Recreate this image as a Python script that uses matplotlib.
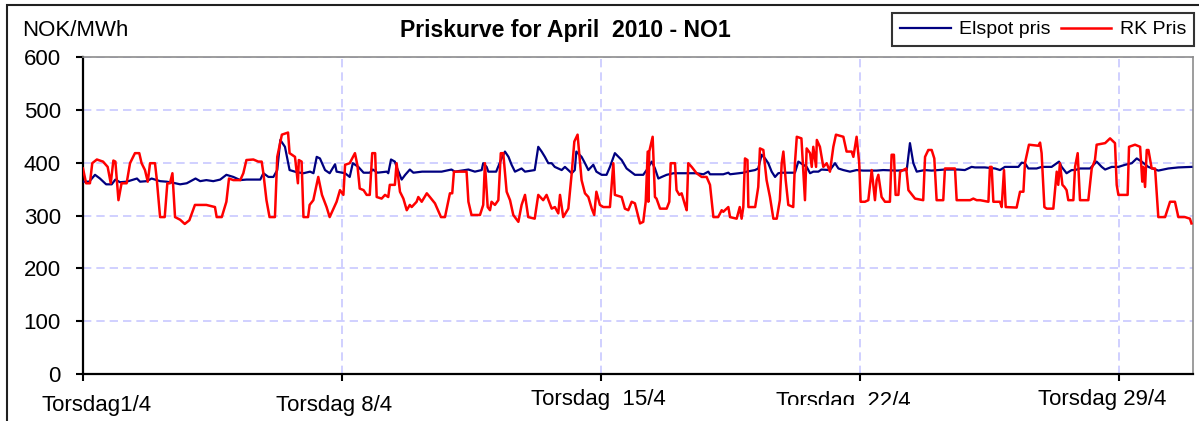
import matplotlib
matplotlib.use("Agg")
import matplotlib.pyplot as plt
from matplotlib.patches import Rectangle
from matplotlib.transforms import Bbox, blended_transform_factory

plt.rcParams['font.family'] = ['Liberation Sans', 'DejaVu Sans']

# ---- data (hour of month, NOK/MWh) ----
elspot_hours = [0, 4, 7.8, 11, 15, 18.6, 21, 24, 28.3, 35, 37, 41.3, 44.5, 50, 54.3, 60, 63, 67.3, 73, 76, 80, 84.5,
                89, 93, 97.5, 102, 106, 115, 117, 120.3, 123.5, 126, 128, 131, 134, 138.6, 143, 147.3, 149.5, 151.6,
                153.7, 157, 160, 163.5, 164.5, 170, 173, 175, 178.6, 182, 186, 188, 191, 197, 198, 199.8, 202.3,
                203.4, 206.7, 209, 212, 214.3, 220, 224, 232.6, 239, 241.2, 250, 254.2, 258.6, 259.6, 261.8, 262.9,
                268, 271.5, 273.7, 276, 278, 280.2, 284.5, 286.7, 293, 295.3, 297.5, 299.6, 301.8, 304, 306, 310.5,
                312.6, 317, 319, 320, 323.4, 325.6, 327.8, 331, 333, 336.4, 339.6, 341.8, 345, 349.4, 352.6, 358,
                363.4, 365.6, 368.9, 371, 373.2, 375.4, 378.6, 383, 398, 402.4, 405.6, 406.7, 415.3, 418.6, 419.7,
                428.3, 430.5, 435.9, 438, 440.2, 442.4, 444.5, 446.7, 448.9, 451, 453.2, 461.8, 464, 467.2, 469.4,
                471.6, 473.7, 477, 479, 484.5, 487.8, 490, 493.2, 497.5, 501.8, 506, 514.8, 519, 527.8, 534.3, 536.4,
                538.6, 540.8, 546, 550.5, 559, 567.6, 572, 576.4, 578.6, 585, 591.6, 594.8, 598, 606.7, 608.9, 611,
                613.2, 618.6, 621.8, 628.3, 631.6, 633.1, 634.8, 638, 641.3, 643.5, 646.7, 653.2, 657.5, 660.8, 663,
                667.3, 671.6, 676, 680.3, 683.5, 686.7, 691, 697.5, 704, 710.5, 719]
elspot_values = [364, 364, 377, 370, 359, 359, 368, 363, 364, 370, 364, 365, 370, 365, 364, 361, 359, 361, 370, 365,
                 367, 365, 368, 377, 373, 367, 368, 368, 380, 373, 373, 386, 443, 430, 386, 382, 380, 383, 380, 411,
                 408, 386, 380, 397, 383, 380, 373, 399, 392, 381, 381, 387, 381, 383, 380, 406, 402, 392, 368, 377,
                 387, 381, 383, 383, 383, 387, 383, 387, 383, 386, 399, 392, 383, 383, 408, 421, 411, 396, 383, 389,
                 383, 386, 430, 421, 411, 399, 399, 392, 386, 392, 380, 386, 421, 411, 399, 386, 396, 383, 377, 377,
                 392, 418, 405, 389, 377, 377, 386, 402, 389, 370, 373, 377, 380, 380, 378, 383, 378, 378, 381, 378,
                 381, 383, 386, 389, 415, 408, 399, 383, 373, 380, 381, 381, 402, 396, 392, 380, 383, 383, 387, 386,
                 399, 389, 386, 383, 386, 385, 385, 386, 385, 386, 437, 399, 383, 386, 385, 387, 387, 386, 392, 391,
                 391, 389, 386, 392, 392, 400, 399, 389, 389, 392, 392, 399, 402, 392, 380, 386, 386, 389, 389, 402,
                 392, 387, 392, 392, 396, 399, 408, 402, 392, 385, 389, 391, 392]

rk_hours = [0, 2, 4.5, 6, 9, 13, 16, 18, 19.7, 21, 23, 25, 28.3, 30.5, 33.7, 36.5, 38, 40.2, 42, 43.5, 46.7, 47.8, 50,
            53, 54.7, 56.4, 58, 59.7, 63, 66, 69, 72.6, 80, 85.6, 86.7, 90, 93, 94.7, 97.5, 102, 104, 106, 110.5,
            113.7, 115.9, 117, 119, 121, 124.5, 126, 129, 133, 134, 137.5, 139.4, 140, 141.8, 143, 146, 147, 149.4,
            152.6, 155, 158, 160, 164.5, 166.7, 168.9, 170, 173, 176.4, 178, 179.5, 182, 184, 186, 187.6, 189.5,
            190.5, 193.7, 195.9, 198, 199, 202.3, 203.4, 205.6, 207.8, 210, 212, 213.2, 216.4, 217.5, 219.7, 223, 225,
            228.3, 232.2, 234.8, 238, 239.5, 240.6, 248.8, 250, 252, 257.5, 259.6, 260.7, 262.5, 264, 265, 267.2,
            269.4, 271, 272.6, 274.8, 277, 279.1, 282.4, 284.5, 286.7, 288.8, 293, 295.3, 298.5, 300.7, 304, 306.1,
            308.3, 309.4, 311.5, 314.8, 317, 318.7, 320.8, 322.3, 323.4, 325.6, 327.8, 330, 331.6, 333, 335.3, 337.5,
            341.8, 344, 345, 349.4, 351.5, 353.7, 355.9, 358, 361.3, 363.4, 365, 366.3, 366.7, 367.3, 369.5, 371,
            372, 374.3, 378.6, 380.3, 381.2, 384, 385, 386.8, 388.3, 390.5, 391.6, 392.6, 394.8, 398, 401.3, 404.5,
            406.7, 408.9, 412, 414.3, 415.3, 418.6, 419.7, 424, 426, 427.2, 428.3, 429.4, 431, 431.6, 436, 438,
            439.1, 441.3, 443.4, 445.6, 447.8, 450, 452, 453.2, 454.3, 455.8, 457.5, 460.7, 461.8, 463, 466, 468.3,
            469.4, 471.6, 472.7, 473.7, 475.5, 476, 478, 480.2, 482.4, 484.5, 486.7, 488.4, 493.2, 495.3, 498.6,
            499.7, 501.8, 503.5, 504.4, 507.2, 509.4, 511.6, 513.7, 514.8, 515.9, 518, 520.2, 523.4, 524.5, 526,
            527.1, 528.9, 530, 534, 535.4, 539.7, 545, 546.2, 548.3, 550.5, 552.2, 553.7, 558, 559.1, 565.6, 566.7,
            575.4, 577.5, 579.7, 581.9, 587.3, 588.3, 589.4, 590.5, 594.8, 595.9, 597.4, 598.5, 605.6, 607.8, 610,
            611, 613.6, 619.7, 620.8, 621.8, 623.6, 625.1, 629.4, 631.6, 632.6, 633.7, 635.3, 636.6, 638, 639.1,
            642.4, 643.5, 645.2, 646.7, 652.1, 654.3, 656.4, 657.5, 663, 666.2, 669.4, 670.5, 671.6, 677.6, 678.5,
            682.4, 685.7, 687.1, 687.7, 688.9, 690, 691.1, 693.2, 695.4, 697.5, 701.9, 705.1, 708.3, 710.5, 714.8,
            718, 719]
rk_values = [389, 361, 361, 399, 406, 402, 392, 361, 404, 402, 329, 361, 361, 399, 418, 418, 399, 386, 364, 399, 399,
             370, 297, 297, 361, 361, 380, 297, 292, 284, 291, 320, 320, 316, 297, 297, 326, 370, 367, 367, 380, 405,
             406, 402, 402, 380, 329, 297, 297, 411, 453, 457, 418, 411, 361, 405, 402, 297, 297, 320, 329, 373, 339,
             316, 297, 326, 348, 339, 396, 399, 418, 395, 351, 348, 339, 339, 418, 418, 335, 332, 339, 335, 358, 358,
             399, 345, 332, 310, 320, 316, 326, 335, 326, 342, 335, 323, 297, 297, 342, 342, 383, 383, 326, 301, 301,
             320, 399, 316, 310, 326, 320, 329, 418, 418, 345, 329, 301, 288, 320, 339, 297, 294, 339, 329, 339, 313,
             316, 304, 339, 297, 313, 380, 440, 453, 402, 367, 342, 335, 313, 301, 345, 320, 316, 316, 399, 339, 335,
             313, 310, 326, 323, 285, 288, 326, 421, 326, 421, 449, 335, 332, 313, 313, 326, 399, 399, 348, 339, 342,
             320, 310, 399, 392, 380, 373, 373, 358, 297, 297, 310, 307, 316, 297, 294, 316, 294, 316, 408, 405, 316,
             316, 354, 427, 424, 367, 335, 294, 294, 329, 399, 421, 367, 320, 316, 399, 449, 446, 329, 427, 418, 392,
             430, 392, 443, 430, 392, 399, 383, 430, 453, 449, 421, 421, 411, 449, 399, 326, 326, 329, 386, 329, 367,
             377, 335, 326, 326, 415, 415, 339, 339, 383, 389, 348, 332, 329, 411, 424, 424, 408, 329, 329, 389, 389,
             329, 329, 332, 329, 329, 326, 392, 392, 326, 326, 316, 386, 316, 315, 345, 345, 399, 434, 432, 438, 418,
             316, 313, 313, 383, 358, 399, 358, 354, 348, 329, 329, 392, 418, 329, 329, 389, 405, 434, 437, 446, 437,
             358, 339, 339, 430, 434, 430, 364, 392, 354, 424, 424, 389, 389, 297, 297, 326, 326, 297, 297, 294, 285]

y_ticks = [0, 100, 200, 300, 400, 500, 600]
tick_hours = [0, 168, 336, 504, 672]
tick_labels = ["Torsdag1/4", "Torsdag 8/4", "Torsdag  15/4", "Torsdag  22/4", "Torsdag 29/4"]

# ---- figure ----
W, H = 1199, 421
fig = plt.figure(figsize=(W / 100, H / 100), dpi=100)
ax = fig.add_axes([83 / W, 1 - 374 / H, 1110 / W, 317 / H])

ax.plot(elspot_hours, elspot_values, color='#000080', lw=1.6, label='Elspot pris', zorder=3)
ax.plot(rk_hours, rk_values, color='#ff0000', lw=1.8, label='RK Pris', zorder=4)

ax.set_xlim(0, 720)
ax.set_ylim(0, 600)
ax.set_yticks(y_ticks)
ax.set_xticks(tick_hours)
ax.tick_params(axis='y', direction='out', length=5, width=1.5, labelsize=16, pad=11, colors='black')
ax.tick_params(axis='x', direction='out', length=5, width=1.5, labelbottom=False)
ax.grid(True, color='#c8c8ff', linestyle=(0, (5, 3)), lw=1.2)
ax.set_axisbelow(True)

for s in ['left', 'bottom']:
    ax.spines[s].set_color('black')
    ax.spines[s].set_linewidth(1.6)
for s in ['top', 'right']:
    ax.spines[s].set_color('#8c8c8c')
    ax.spines[s].set_linewidth(1.2)

# x category labels
label_offsets = [9, -5, -2, -11, -11]
label_y = [405, 405, 400, 401, 400]
trans = blended_transform_factory(ax.transData, fig.transFigure)
for hx, lab, off, ly in zip(tick_hours, tick_labels, label_offsets, label_y):
    t = ax.text(hx + off, 1 - ly / H, lab, transform=trans, ha='center', va='center', fontsize=16)
    t.set_clip_on(False)
    if lab.endswith('22/4'):
        t.set_clip_box(Bbox.from_extents(0, H - 405, W, H))
        t.set_clip_on(True)

# title and unit
fig.text(565 / W, 1 - 30 / H, "Priskurve for April  2010 - NO1", ha='center', va='center',
         fontsize=16.6, fontweight='bold')
fig.text(22 / W, 1 - 30 / H, "NOK/MWh", ha='left', va='center', fontsize=16)

# legend
leg = fig.legend(loc='upper right', bbox_to_anchor=(1194 / W, 1 - 13 / H), ncol=2, fontsize=14,
                 frameon=True, fancybox=False, edgecolor='black', handlelength=2.6, handletextpad=0.45,
                 columnspacing=0.5, borderpad=0.4, borderaxespad=0)
leg.get_frame().set_linewidth(1.5)

# outer frame
fig.patches.append(Rectangle((7, -10), W + 10, H - 5 + 10, transform=None, fill=False,
                             edgecolor='#202020', lw=1.5))

fig.savefig('out.png', dpi=100)
